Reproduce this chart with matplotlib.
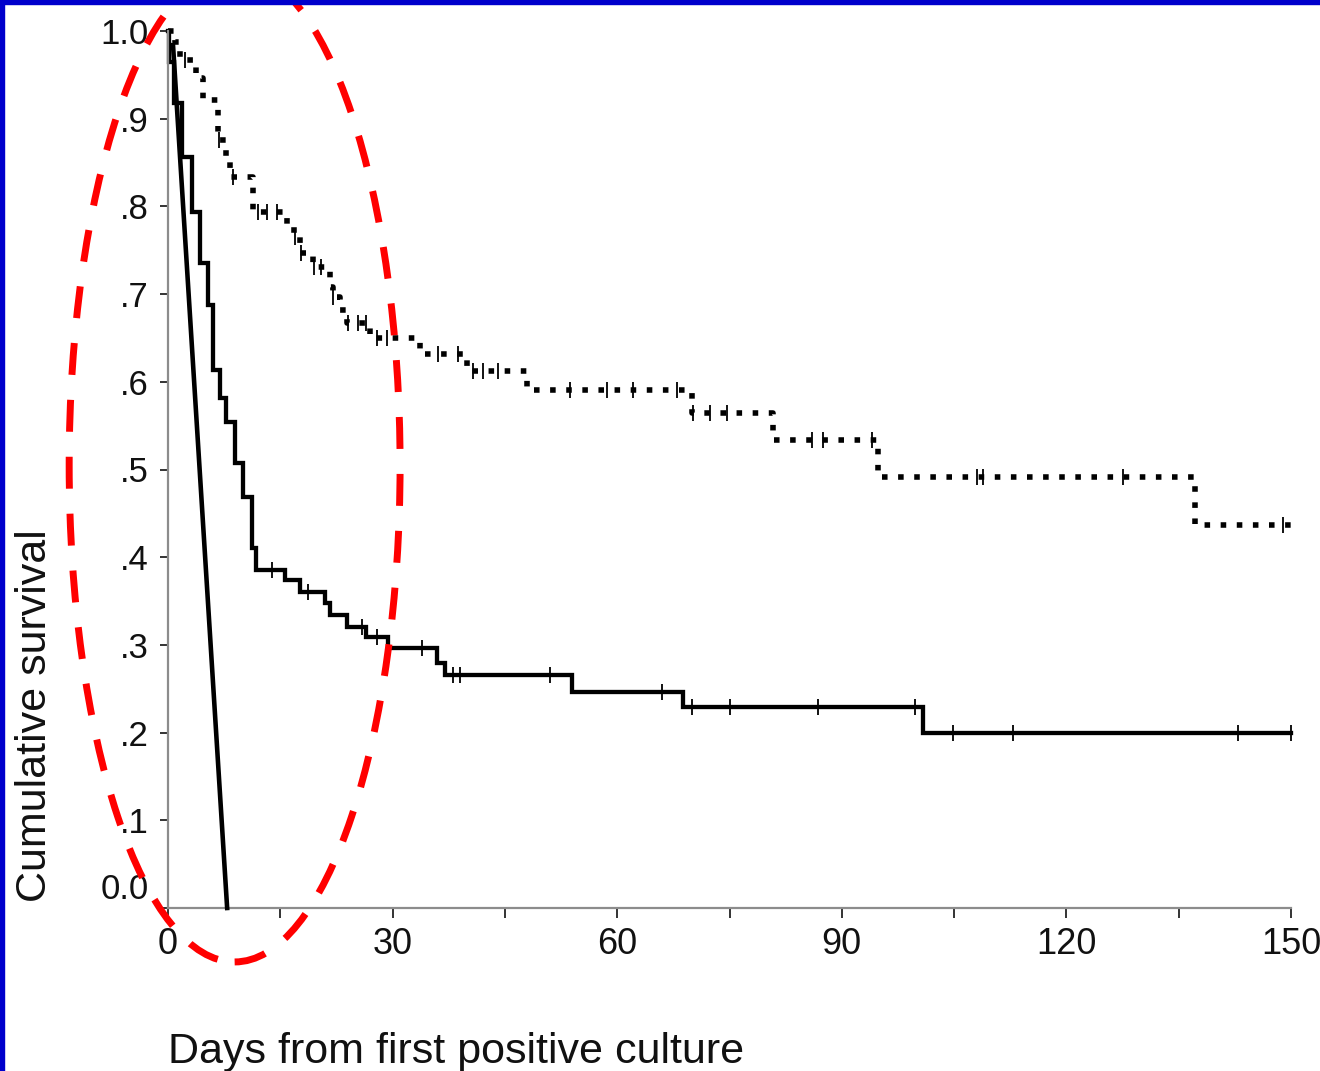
"""
Kaplan-Meier style survival curves with hand-drawn annotation.
"""
import numpy as np
import matplotlib
matplotlib.use("Agg")
import matplotlib.pyplot as plt
from matplotlib.patches import Ellipse, Rectangle

plt.rcParams["font.family"] = ["Liberation Sans", "DejaVu Sans"]

# lower curve (solid): step times (days) and survival after each step
solid_t = [0, 0.2, 0.8, 1.9, 3.2, 4.3, 5.4, 6.0, 6.9, 7.8, 8.9, 10.0, 11.2, 11.8,
           15.6, 17.6, 21.0, 21.6, 23.9, 26.5, 29.4, 35.9, 37.0, 54.0, 68.8, 100.9]
solid_s = [1.0, 0.965, 0.918, 0.856, 0.794, 0.735, 0.688, 0.613, 0.581, 0.554, 0.507,
           0.469, 0.411, 0.385, 0.374, 0.360, 0.348, 0.334, 0.320, 0.309, 0.296,
           0.279, 0.266, 0.246, 0.229, 0.200]
solid_cens = [13.9, 18.7, 25.9, 27.9, 33.9, 38.1, 39.0, 51.0, 66.0, 70.0, 75.0,
              86.8, 99.8, 104.9, 112.9, 142.9, 150.0]

# upper curve (dotted)
dot_t = [0, 0.9, 1.6, 3.8, 4.7, 6.7, 7.8, 8.3, 11.4, 15.9, 16.8, 17.6, 19.4, 21.6,
         22.0, 23.0, 23.9, 27.0, 33.7, 40.0, 47.9, 70.0, 80.8, 94.8, 137.2]
dot_s = [1.0, 0.988, 0.967, 0.946, 0.921, 0.876, 0.853, 0.834, 0.794, 0.779, 0.765,
         0.747, 0.731, 0.708, 0.697, 0.682, 0.667, 0.650, 0.632, 0.612, 0.591,
         0.564, 0.534, 0.491, 0.437]
dot_cens = [2.3, 6.8, 8.7, 12.0, 13.2, 14.5, 17.0, 17.8, 19.5, 20.5, 22.1, 24.0,
            25.4, 26.5, 27.9, 29.2, 36.0, 38.7, 40.7, 42.1, 44.1, 53.7, 58.6, 62.1,
            68.0, 70.1, 72.4, 74.6, 86.0, 87.5, 94.0, 108.0, 108.9, 127.5, 148.9]

x_end = 150
xticks = [0, 30, 60, 90, 120, 150]
yticks = [0.0, 0.1, 0.2, 0.3, 0.4, 0.5, 0.6, 0.7, 0.8, 0.9, 1.0]
ytick_labels = ["", ".1", ".2", ".3", ".4", ".5", ".6", ".7", ".8", ".9", "1.0"]

# annotation: straight line and dashed ellipse (data coords)
arrow_x = [0.67, 7.9]
arrow_y = [0.984, 0.0]
ell_center = (8.9, 0.505)
ell_w, ell_h = 44.2, 1.133


def step_value(t, s, x):
    i = np.searchsorted(t, x, side="right") - 1
    return np.asarray(s)[i]


fig = plt.figure(figsize=(13.2, 10.71), dpi=100)
ax = fig.add_axes([168 / 1320, 163 / 1071, (1291 - 168) / 1320, (908 - 31) / 1071])

for t, s, cens, style in [(solid_t, solid_s, solid_cens, "solid"),
                          (dot_t, dot_s, dot_cens, "dotted")]:
    tt = list(t) + [x_end]
    ss = list(s) + [s[-1]]
    if style == "solid":
        ax.step(tt, ss, where="post", color="black", lw=3.1, clip_on=False,
                solid_joinstyle="miter")
    else:
        ax.step(tt, ss, where="post", color="black", lw=4.0, clip_on=False,
                linestyle=(0, (1, 1.9)), dash_capstyle="butt")
    cy = step_value(t, s, cens)
    ax.plot(cens, cy, linestyle="none", marker="|", markersize=12,
            markeredgewidth=1.3, color="black", clip_on=False)

# annotation
ax.plot(arrow_x, arrow_y, color="black", lw=3.3, clip_on=False, zorder=5)
ax.add_patch(Ellipse(ell_center, ell_w, ell_h, fill=False, edgecolor="#ff0000",
                     lw=5, linestyle=(0, (4.6, 3.6)), clip_on=False, zorder=6))

ax.set_xlim(0, x_end)
ax.set_ylim(0, 1.0)
ax.set_xticks(xticks)
ax.set_xticks(np.arange(15, 150, 30), minor=True)
ax.set_yticks(yticks)
ax.set_yticklabels(ytick_labels)
ax.annotate("0.0", xy=(0, 0), xycoords=("axes fraction", "data"),
            xytext=(-14, 13), textcoords="offset points", ha="right", va="center",
            fontsize=25, color="#111111")

for side in ["top", "right"]:
    ax.spines[side].set_visible(False)
for side in ["left", "bottom"]:
    ax.spines[side].set_color("#8c8c8c")
    ax.spines[side].set_linewidth(1.6)

ax.tick_params(axis="both", which="both", direction="out", color="#333333",
               width=1.4, labelcolor="#111111")
ax.tick_params(axis="y", length=6, pad=8, labelsize=25)
ax.tick_params(axis="x", which="major", length=7, pad=7, labelsize=26)
ax.tick_params(axis="x", which="minor", length=7)

fig.text(35 / 1320, 1 - 716 / 1071, "Cumulative survival", rotation=90,
         ha="center", va="center", fontsize=31, color="#111111")
fig.text(168 / 1320, 1 - 1063 / 1071, "Days from first positive culture",
         ha="left", va="baseline", fontsize=31, color="#111111")

# blue frame on top and left edges
fig.add_artist(Rectangle((0, 1 - 4 / 1071), 1, 4 / 1071, color="#0000cc",
                         transform=fig.transFigure))
fig.add_artist(Rectangle((0, 0), 4 / 1320, 1, color="#0000cc",
                         transform=fig.transFigure))

fig.savefig("out.png", dpi=100)
plt.close(fig)
